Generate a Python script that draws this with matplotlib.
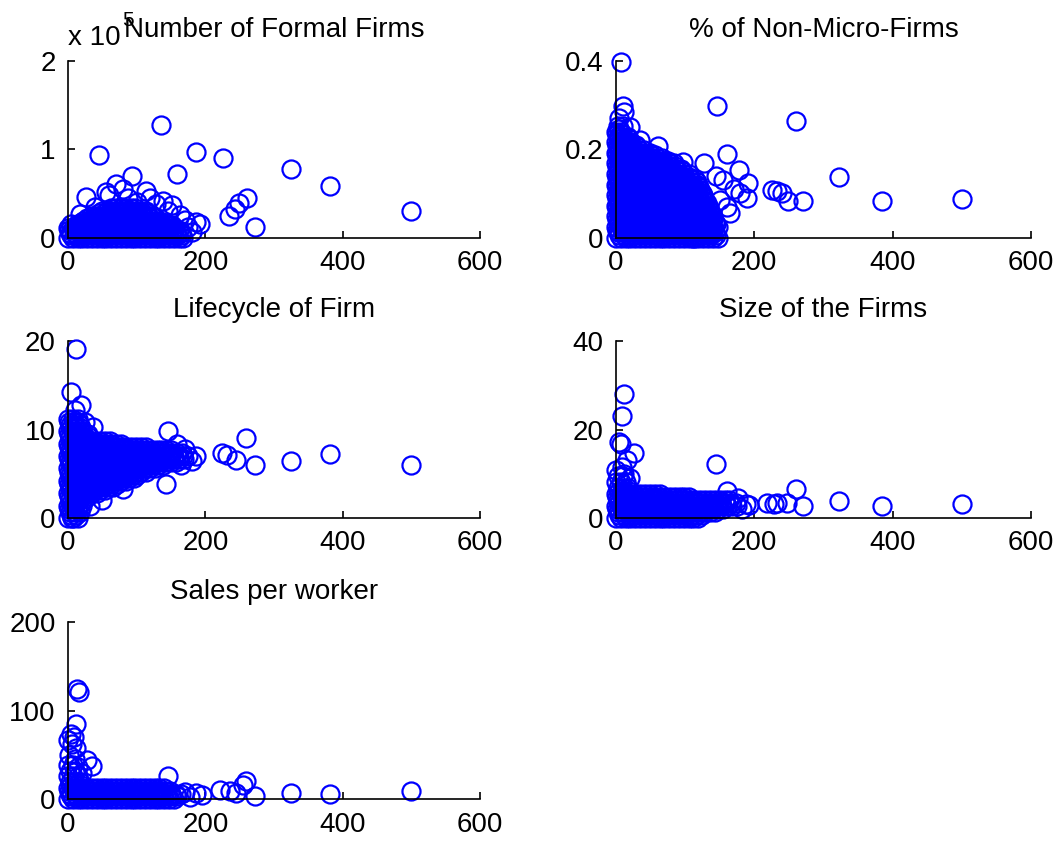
import matplotlib
matplotlib.use('Agg')
from matplotlib import pyplot as plt

plt.rcParams['font.family'] = ['Liberation Sans', 'DejaVu Sans']
plt.rcParams['font.size'] = 20

x_ticks = [0, 200, 400, 600]

# number of formal firms (y in units of 1e5): single circles, then the dense cluster by rows
firms_pts = [
    (135, 1.27), (45, 0.93), (187, 0.97), (226, 0.90), (158, 0.72), (93, 0.70),
    (324, 0.78), (382, 0.58), (500, 0.30), (272, 0.12), (260, 0.45), (249, 0.39),
    (243, 0.32), (235, 0.24), (186, 0.18), (26, 0.46), (70, 0.61), (113, 0.53),
    (17, 0.27), (56, 0.52), (151, 0.37), (138, 0.41), (163, 0.26), (170, 0.20),
    (192, 0.16), (60, 0.48), (80, 0.55), (120, 0.45), (128, 0.38), (145, 0.30),
    (175, 0.12), (180, 0.06), (5, 0.15), (40, 0.35), (100, 0.40), (88, 0.45),
]
firms_rows = [
    (0.000, [0, 7, 14, 21, 28, 35, 42, 49, 56, 63, 70, 77, 84, 91, 98, 105, 112, 119,
             126, 133, 140, 147, 154, 161, 168]),
    (0.028, [5, 12, 19, 26, 33, 40, 47, 54, 61, 68, 75, 82, 89, 96, 103, 110, 117, 124,
             131, 138, 145, 152, 159, 166]),
    (0.055, [3, 10, 17, 24, 31, 38, 45, 52, 59, 66, 73, 80, 87, 94, 101, 108, 115, 122,
             129, 136, 143, 150, 157, 164]),
    (0.083, [1, 8, 15, 22, 29, 36, 43, 50, 57, 64, 71, 78, 85, 92, 99, 106, 113, 120,
             127, 134, 141, 148, 155, 162]),
    (0.110, [0, 7, 14, 21, 28, 35, 42, 49, 56, 63, 70, 77, 84, 91, 98, 105, 112, 119,
             126, 133, 140, 147, 154]),
    (0.138, [12, 19, 26, 33, 40, 47, 54, 61, 68, 75, 82, 89, 96, 103, 110, 117, 124,
             131, 138, 145, 152]),
    (0.165, [17, 24, 31, 38, 45, 52, 59, 66, 73, 80, 87, 94, 101, 108, 115, 122, 129,
             136, 143]),
    (0.193, [22, 29, 36, 43, 50, 57, 64, 71, 78, 85, 92, 99, 106, 113, 120, 127, 134]),
    (0.220, [28, 35, 42, 49, 56, 63, 70, 77, 84, 91, 98, 105, 112, 119, 126]),
    (0.248, [33, 40, 47, 54, 61, 68, 75, 82, 89, 96, 103, 110, 117, 124]),
    (0.275, [45, 52, 59, 66, 73, 80, 87, 94, 101, 108, 115]),
    (0.303, [50, 57, 64, 71, 78, 85, 92, 99, 106, 113]),
    (0.330, [63, 70, 77, 84, 91, 98]),
]

# share of non-micro firms
nonmicro_pts = [
    (7, 0.398), (10, 0.298), (12, 0.285), (146, 0.297), (261, 0.263), (160, 0.189),
    (323, 0.137), (226, 0.108), (233, 0.106), (240, 0.100), (249, 0.084), (271, 0.082),
    (384, 0.082), (500, 0.087), (178, 0.152), (191, 0.123), (189, 0.089), (165, 0.055),
    (138, 0.010), (113, 0.000), (61, 0.208), (97, 0.172), (127, 0.168), (150, 0.085),
    (170, 0.110), (155, 0.130), (145, 0.140), (135, 0.030), (160, 0.070), (180, 0.100),
    (20, 0.25), (35, 0.22), (5, 0.27),
]
nonmicro_rows = [
    (0.000, [0, 7, 14, 21, 28, 35, 42, 49, 56, 63, 70, 77, 84, 91, 98, 105, 112, 119,
             126, 133, 140, 147]),
    (0.006, [5, 12, 19, 26, 33, 40, 47, 54, 61, 68, 75, 82, 89, 96, 103, 110, 117, 124,
             131, 138, 145]),
    (0.012, [3, 10, 17, 24, 31, 38, 45, 52, 59, 66, 73, 80, 87, 94, 101, 108, 115, 122,
             129, 136, 143]),
    (0.018, [1, 8, 15, 22, 29, 36, 43, 50, 57, 64, 71, 78, 85, 92, 99, 106, 113, 120,
             127, 134, 141]),
    (0.024, [0, 7, 14, 21, 28, 35, 42, 49, 56, 63, 70, 77, 84, 91, 98, 105, 112, 119,
             126, 133, 140, 147]),
    (0.030, [5, 12, 19, 26, 33, 40, 47, 54, 61, 68, 75, 82, 89, 96, 103, 110, 117, 124,
             131, 138, 145]),
    (0.036, [3, 10, 17, 24, 31, 38, 45, 52, 59, 66, 73, 80, 87, 94, 101, 108, 115, 122,
             129, 136, 143]),
    (0.042, [1, 8, 15, 22, 29, 36, 43, 50, 57, 64, 71, 78, 85, 92, 99, 106, 113, 120,
             127, 134, 141]),
    (0.048, [0, 7, 14, 21, 28, 35, 42, 49, 56, 63, 70, 77, 84, 91, 98, 105, 112, 119,
             126, 133, 140]),
    (0.054, [5, 12, 19, 26, 33, 40, 47, 54, 61, 68, 75, 82, 89, 96, 103, 110, 117, 124,
             131, 138]),
    (0.060, [3, 10, 17, 24, 31, 38, 45, 52, 59, 66, 73, 80, 87, 94, 101, 108, 115, 122,
             129, 136]),
    (0.066, [1, 8, 15, 22, 29, 36, 43, 50, 57, 64, 71, 78, 85, 92, 99, 106, 113, 120,
             127, 134]),
    (0.072, [0, 7, 14, 21, 28, 35, 42, 49, 56, 63, 70, 77, 84, 91, 98, 105, 112, 119,
             126, 133]),
    (0.078, [5, 12, 19, 26, 33, 40, 47, 54, 61, 68, 75, 82, 89, 96, 103, 110, 117, 124,
             131]),
    (0.084, [3, 10, 17, 24, 31, 38, 45, 52, 59, 66, 73, 80, 87, 94, 101, 108, 115, 122,
             129]),
    (0.090, [1, 8, 15, 22, 29, 36, 43, 50, 57, 64, 71, 78, 85, 92, 99, 106, 113, 120,
             127]),
    (0.096, [0, 7, 14, 21, 28, 35, 42, 49, 56, 63, 70, 77, 84, 91, 98, 105, 112, 119,
             126]),
    (0.102, [5, 12, 19, 26, 33, 40, 47, 54, 61, 68, 75, 82, 89, 96, 103, 110, 117, 124]),
    (0.108, [3, 10, 17, 24, 31, 38, 45, 52, 59, 66, 73, 80, 87, 94, 101, 108, 115, 122]),
    (0.114, [1, 8, 15, 22, 29, 36, 43, 50, 57, 64, 71, 78, 85, 92, 99, 106, 113, 120]),
    (0.120, [0, 7, 14, 21, 28, 35, 42, 49, 56, 63, 70, 77, 84, 91, 98, 105, 112, 119]),
    (0.126, [5, 12, 19, 26, 33, 40, 47, 54, 61, 68, 75, 82, 89, 96, 103, 110, 117]),
    (0.132, [3, 10, 17, 24, 31, 38, 45, 52, 59, 66, 73, 80, 87, 94, 101, 108, 115]),
    (0.138, [1, 8, 15, 22, 29, 36, 43, 50, 57, 64, 71, 78, 85, 92, 99, 106]),
    (0.144, [0, 7, 14, 21, 28, 35, 42, 49, 56, 63, 70, 77, 84, 91, 98, 105]),
    (0.150, [5, 12, 19, 26, 33, 40, 47, 54, 61, 68, 75, 82, 89, 96]),
    (0.156, [3, 10, 17, 24, 31, 38, 45, 52, 59, 66, 73, 80, 87, 94]),
    (0.162, [1, 8, 15, 22, 29, 36, 43, 50, 57, 64, 71, 78, 85]),
    (0.168, [0, 7, 14, 21, 28, 35, 42, 49, 56, 63, 70, 77, 84]),
    (0.174, [5, 12, 19, 26, 33, 40, 47, 54, 61, 68, 75]),
    (0.180, [3, 10, 17, 24, 31, 38, 45, 52, 59, 66]),
    (0.186, [1, 8, 15, 22, 29, 36, 43, 50, 57]),
    (0.192, [0, 7, 14, 21, 28, 35, 42, 49]),
    (0.198, [5, 12, 19, 26, 33, 40]),
    (0.204, [3, 10, 17, 24, 31]),
    (0.210, [1, 8, 15, 22, 29]),
    (0.216, [0, 7, 14, 21]),
    (0.222, [5, 12, 19]),
    (0.228, [3, 10, 17]),
    (0.234, [1, 8]),
    (0.240, [0, 7]),
    (0.246, [5]),
    (0.252, [3, 10]),
]

# lifecycle of firm
lifecycle_pts = [
    (11, 19.1), (5, 14.2), (19, 12.8), (10, 12.2), (36, 10.3), (145, 9.85), (259, 9.0),
    (159, 8.35), (187, 6.95), (224, 7.3), (231, 7.1), (244, 6.6), (272, 5.94),
    (324, 6.47), (382, 7.26), (500, 5.94), (142, 3.87), (80, 3.3), (32, 1.3), (6, 0.0),
    (25, 10.8), (50, 2.0), (165, 6.0), (170, 7.8), (180, 6.4),
]
lifecycle_rows = [
    (0.0, [0, 7, 14]),
    (0.35, [5, 12]),
    (0.7, [3, 10, 17]),
    (1.05, [1, 8, 15]),
    (1.4, [0, 7, 14, 21]),
    (1.75, [5, 12, 19]),
    (2.1, [3, 10, 17, 24]),
    (2.45, [1, 8, 15, 22, 29]),
    (2.8, [0, 7, 14, 21, 28, 35, 42]),
    (3.15, [5, 12, 19, 26, 33, 40, 47, 54]),
    (3.5, [3, 10, 17, 24, 31, 38, 45, 52, 59, 66]),
    (3.85, [1, 8, 15, 22, 29, 36, 43, 50, 57, 64, 71]),
    (4.2, [0, 7, 14, 21, 28, 35, 42, 49, 56, 63, 70, 77, 84]),
    (4.55, [5, 12, 19, 26, 33, 40, 47, 54, 61, 68, 75, 82, 89, 96]),
    (4.9, [3, 10, 17, 24, 31, 38, 45, 52, 59, 66, 73, 80, 87, 94, 101]),
    (5.25, [1, 8, 15, 22, 29, 36, 43, 50, 57, 64, 71, 78, 85, 92, 99, 106, 113]),
    (5.6, [0, 7, 14, 21, 28, 35, 42, 49, 56, 63, 70, 77, 84, 91, 98, 105, 112, 119, 126]),
    (5.95, [5, 12, 19, 26, 33, 40, 47, 54, 61, 68, 75, 82, 89, 96, 103, 110, 117, 124,
            131, 138]),
    (6.3, [3, 10, 17, 24, 31, 38, 45, 52, 59, 66, 73, 80, 87, 94, 101, 108, 115, 122,
           129, 136, 143, 150, 157]),
    (6.65, [1, 8, 15, 22, 29, 36, 43, 50, 57, 64, 71, 78, 85, 92, 99, 106, 113, 120,
            127, 134, 141, 148, 155, 162, 169]),
    (7.0, [0, 7, 14, 21, 28, 35, 42, 49, 56, 63, 70, 77, 84, 91, 98, 105, 112, 119, 126,
           133, 140, 147, 154, 161, 168, 175]),
    (7.35, [5, 12, 19, 26, 33, 40, 47, 54, 61, 68, 75, 82, 89, 96, 103, 110, 117, 124,
            131, 138, 145, 152, 159, 166]),
    (7.7, [3, 10, 17, 24, 31, 38, 45, 52, 59, 66, 73, 80, 87, 94, 101, 108, 115, 122,
           129, 136, 143, 150]),
    (8.05, [1, 8, 15, 22, 29, 36, 43, 50, 57, 64, 71, 78, 85, 92, 99, 106, 113]),
    (8.4, [0, 7, 14, 21, 28, 35, 42, 49, 56, 63, 70, 77]),
    (8.75, [5, 12, 19, 26, 33, 40, 47, 54, 61]),
    (9.1, [3, 10, 17, 24, 31]),
    (9.45, [1, 8, 15, 22, 29]),
    (9.8, [0, 7, 14, 21]),
    (10.15, [5, 12, 19]),
    (10.5, [3, 10, 17]),
    (10.85, [1, 8, 15]),
    (11.2, [0, 7, 14]),
]

# size of the firms
size_pts = [
    (12, 28.0), (9, 23.0), (5, 17.2), (7, 16.8), (26, 14.7), (16, 13.0), (144, 12.3),
    (260, 6.6), (161, 6.1), (322, 3.8), (271, 2.6), (384, 2.6), (500, 3.2), (188, 3.2),
    (192, 3.0), (218, 3.4), (228, 3.1), (233, 3.3), (248, 3.3), (0, 10.9), (8, 11.5),
    (12, 10.0), (20, 9.0), (176, 4.5), (182, 2.0),
]
size_rows = [
    (0.0, [0, 7, 14, 21, 28, 35, 42, 49, 56, 63, 70, 77, 84, 91, 98, 105, 112, 119]),
    (0.675, [5, 12, 19, 26, 33, 40, 47, 54, 61, 68, 75, 82, 89, 96, 103, 110, 117, 124]),
    (1.35, [3, 10, 17, 24, 31, 38, 45, 52, 59, 66, 73, 80, 87, 94, 101, 108, 115, 122,
            129, 136, 143]),
    (2.025, [1, 8, 15, 22, 29, 36, 43, 50, 57, 64, 71, 78, 85, 92, 99, 106, 113, 120,
             127, 134, 141, 148, 155]),
    (2.7, [0, 7, 14, 21, 28, 35, 42, 49, 56, 63, 70, 77, 84, 91, 98, 105, 112, 119, 126,
           133, 140, 147, 154, 161, 168, 175]),
    (3.375, [5, 12, 19, 26, 33, 40, 47, 54, 61, 68, 75, 82, 89, 96, 103, 110, 117, 124,
             131, 138, 145, 152, 159, 166, 173]),
    (4.05, [3, 10, 17, 24, 31, 38, 45, 52, 59, 66, 73, 80, 87, 94, 101, 108, 115, 122,
            129, 136, 143, 150, 157, 164]),
    (4.725, [1, 8, 15, 22, 29, 36, 43, 50, 57, 64, 71, 78, 85, 92, 99, 106]),
    (5.4, [0, 7, 14, 21, 28, 35, 42, 49, 56, 63]),
    (6.075, [5, 12, 19]),
    (6.75, [3, 10, 17]),
    (8.1, [0, 7, 14]),
    (9.45, [3, 10]),
]

# sales per worker
sales_pts = [
    (13, 125.0), (16, 121.0), (11, 85.0), (0, 67.5), (5, 74.0), (8, 70.0), (35, 37.5),
    (27, 44.0), (146, 26.0), (259, 20.6), (255, 16.0), (272, 4.1), (324, 7.5),
    (382, 6.0), (500, 9.4), (187, 7.5), (221, 10.5), (236, 9.0), (245, 7.0), (195, 5.0),
    (12, 58.0), (6, 62.0), (2, 50.0), (10, 45.0), (20, 30.0), (14, 36.0), (170, 8.0),
    (178, 3.0),
]
sales_rows = [
    (0.0, [0, 7, 14, 21, 28, 35, 42, 49, 56, 63, 70, 77, 84, 91, 98, 105, 112, 119, 126,
           133, 140, 147, 154]),
    (3.25, [5, 12, 19, 26, 33, 40, 47, 54, 61, 68, 75, 82, 89, 96, 103, 110, 117, 124,
            131, 138, 145, 152, 159]),
    (6.5, [3, 10, 17, 24, 31, 38, 45, 52, 59, 66, 73, 80, 87, 94, 101, 108, 115, 122,
           129, 136, 143, 150, 157, 164]),
    (9.75, [1, 8, 15, 22, 29, 36, 43, 50, 57, 64, 71, 78, 85, 92, 99, 106, 113, 120,
            127, 134, 141, 148]),
    (13.0, [0, 7, 14, 21, 28, 35, 42, 49, 56, 63, 70, 77, 84, 91, 98, 105, 112, 119,
            126, 133, 140]),
    (16.25, [5, 12, 19]),
    (19.5, [3, 10, 17]),
    (26.0, [0, 7, 14]),
    (32.5, [3, 10]),
    (39.0, [0, 7]),
]

panels = [
    (firms_pts, firms_rows, 'Number of Formal Firms', [0, 1, 2], ['0', '1', '2'],
     [0.0643, 0.7177, 0.3894, 0.2102]),
    (nonmicro_pts, nonmicro_rows, '% of Non-Micro-Firms', [0, 0.2, 0.4], ['0', '0.2', '0.4'],
     [0.5822, 0.7177, 0.3922, 0.2102]),
    (lifecycle_pts, lifecycle_rows, 'Lifecycle of Firm', [0, 10, 20], ['0', '10', '20'],
     [0.0643, 0.3848, 0.3894, 0.2102]),
    (size_pts, size_rows, 'Size of the Firms', [0, 20, 40], ['0', '20', '40'],
     [0.5822, 0.3848, 0.3922, 0.2102]),
    (sales_pts, sales_rows, 'Sales per worker', [0, 100, 200], ['0', '100', '200'],
     [0.0643, 0.0507, 0.3894, 0.2102]),
]

fig = plt.figure(figsize=(10.58, 8.42), dpi=100)
axes = []
for pts, rows, title, yt, ytl, rect in panels:
    ax = fig.add_axes(rect)
    xs = [p[0] for p in pts]
    ys = [p[1] for p in pts]
    for y, row in rows:
        xs += row
        ys += [y] * len(row)
    # crisp, un-smoothed circles like the original screen capture
    ax.plot(xs, ys, 'o', ms=13, mfc='none', mec=(0, 0, 1), mew=1.6, clip_on=False,
            antialiased=False)
    ax.set_xlim(0, 600)
    ax.set_ylim(yt[0], yt[-1])
    ax.set_xticks(x_ticks)
    ax.set_yticks(yt)
    ax.set_yticklabels(ytl)
    ax.spines['top'].set_visible(False)
    ax.spines['right'].set_visible(False)
    for s in ['left', 'bottom']:
        ax.spines[s].set_linewidth(1.2)
    ax.tick_params(direction='in', length=5, width=1.2, pad=9, labelsize=20)
    ax.set_title(title, pad=17, fontsize=20)
    axes.append(ax)

# exponent label of the first panel
axes[0].annotate('x 10', xy=(0, 1), xycoords='axes fraction', xytext=(0, 11),
                 textcoords='offset points', ha='left', va='baseline', fontsize=20)
axes[0].annotate('5', xy=(0, 1), xycoords='axes fraction', xytext=(39, 25),
                 textcoords='offset points', ha='left', va='baseline', fontsize=15)

fig.savefig('out.png', dpi=100)
